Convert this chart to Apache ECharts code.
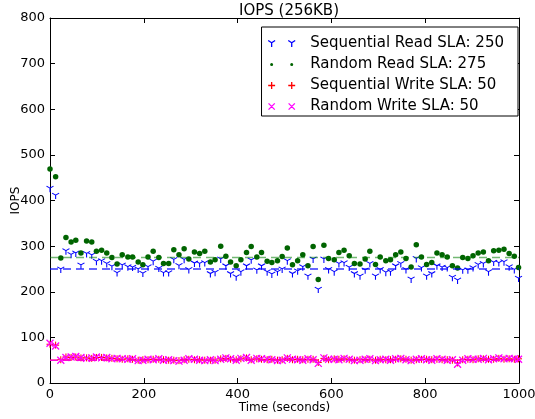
<!DOCTYPE html>
<html>
<head>
<meta charset="utf-8">
<script src="https://cdn.jsdelivr.net/npm/echarts@6/dist/echarts.min.js"></script>
<style>
  html, body { margin: 0; padding: 0; background: #fff; }
  #chart { width: 535px; height: 419px; }
</style>
</head>
<body>
<div id="chart"></div>
<script>
// sample times (seconds)
const times = [
  0, 12, 23, 34, 45, 55, 66, 78, 89, 99,
  110, 121, 132, 143, 154, 166, 176, 188, 198, 209,
  220, 232, 242, 253, 264, 275, 286, 296, 308, 319,
  330, 342, 352, 364, 375, 385, 397, 407, 419, 429,
  441, 451, 463, 473, 485, 495, 506, 517, 528, 539,
  550, 561, 572, 584, 594, 606, 616, 627, 638, 649,
  661, 672, 682, 694, 704, 716, 726, 737, 748, 759,
  770, 781, 792, 803, 814, 825, 836, 847, 858, 869,
  880, 891, 902, 913, 924, 935, 946, 957, 968, 979,
  990, 999
]

const seqRead = [
  427, 412, 250, 290, 282, 285, 259, 284, 281, 267,
  268, 262, 256, 242, 259, 255, 254, 250, 241, 255,
  267, 252, 242, 242, 271, 258, 271, 249, 263, 262,
  264, 240, 243, 272, 257, 240, 233, 244, 257, 270,
  248, 257, 244, 239, 244, 250, 268, 240, 246, 255,
  235, 272, 206, 272, 249, 244, 262, 264, 254, 240,
  235, 248, 262, 235, 249, 243, 244, 257, 262, 249,
  228, 273, 253, 235, 240, 257, 254, 253, 232, 226,
  248, 248, 253, 260, 262, 244, 265, 264, 266, 255,
  249, 230
]

const randRead = [
  469, 452, 274, 319, 309, 313, 285, 311, 309, 289,
  291, 285, 275, 261, 281, 276, 276, 265, 259, 276,
  289, 275, 262, 262, 292, 281, 294, 272, 287, 284,
  289, 265, 270, 300, 278, 265, 257, 270, 286, 299,
  276, 286, 267, 264, 268, 277, 296, 259, 268, 281,
  257, 299, 227, 302, 273, 270, 286, 291, 279, 262,
  261, 272, 289, 260, 276, 268, 270, 281, 287, 273,
  254, 303, 276, 260, 264, 285, 281, 276, 257, 252,
  275, 273, 279, 285, 287, 268, 290, 291, 293, 284,
  278, 253
]

const seqWrite = [
  85, 83, 51, 57, 56, 57, 55, 55, 54, 56,
  56, 55, 54, 53, 52, 53, 52, 50, 51, 51,
  52, 52, 51, 50, 50, 49, 51, 52, 51, 51,
  50, 50, 50, 53, 54, 52, 51, 53, 55, 51,
  53, 52, 51, 52, 50, 51, 54, 51, 52, 51,
  52, 52, 45, 54, 51, 53, 52, 53, 51, 50,
  51, 51, 52, 50, 52, 51, 51, 52, 53, 52,
  50, 51, 52, 52, 51, 52, 51, 51, 50, 44,
  51, 52, 51, 53, 53, 52, 52, 54, 52, 53,
  52, 53
]

const randWrite = [
  87, 81, 50, 56, 57, 58, 56, 54, 55, 57,
  55, 56, 53, 54, 53, 52, 53, 49, 50, 52,
  51, 53, 50, 51, 49, 48, 50, 53, 52, 50,
  49, 51, 49, 52, 55, 53, 50, 54, 56, 50,
  54, 53, 52, 51, 49, 50, 55, 52, 51, 50,
  53, 51, 43, 55, 52, 52, 51, 54, 52, 49,
  50, 52, 53, 49, 51, 52, 50, 53, 54, 51,
  49, 52, 53, 51, 50, 53, 52, 50, 51, 41,
  50, 53, 52, 52, 54, 51, 53, 55, 53, 54,
  53, 52
]

const seriesNames = ['Sequential Read SLA: 250', 'Random Read SLA: 275', 'Sequential Write SLA: 50', 'Random Write SLA: 50']
const slaValues = [250, 275, 50, 50]
const xTicks = [0, 1000]
const yTicks = [0, 800]

const colors = ['#0000ff', '#006400', '#ff0000', '#ff00ff']
const lineColors = ['rgba(0,0,255,0.8)', 'rgba(0,128,0,0.55)', 'rgba(255,0,0,0.8)', 'rgba(255,0,255,0.8)']

// marker shapes (stroked), a pair version for the legend
const triDown = 'path://M5,3.33 L5,10 M5,3.33 L0,0 M5,3.33 L10,0'
const plus = 'path://M0,5 L10,5 M5,0 L5,10'
const cross = 'path://M0,0 L10,10 M0,10 L10,0'
const legendIcons = [
  'path://M0,0 M39,10 M5,4 L5,10 M5,4 L0,0.6 M5,4 L10,0.6 M34,4 L34,10 M34,4 L29,0.6 M34,4 L39,0.6',
  'path://M0,0 M39,10 M2.8,5 A2.2,2.2 0 1 1 7.2,5 A2.2,2.2 0 1 1 2.8,5 Z M31.8,5 A2.2,2.2 0 1 1 36.2,5 A2.2,2.2 0 1 1 31.8,5 Z',
  'path://M0,0 M39,10 M0,5 L10,5 M5,0 L5,10 M29,5 L39,5 M34,0 L34,10',
  'path://M0,0 M39,10 M0.5,0.5 L9.5,9.5 M0.5,9.5 L9.5,0.5 M29.5,0.5 L38.5,9.5 M29.5,9.5 L38.5,0.5'
]

const pointSeries = [seqRead, randRead, seqWrite, randWrite]
const symbols = [triDown, 'circle', plus, cross]
const symbolSizes = [[7, 6], 5.5, 7, 7]

const font = 'DejaVu Sans'

const series = []
pointSeries.forEach((vals, i) => {
  series.push({
    name: seriesNames[i],
    type: 'scatter',
    data: vals.map((v, k) => [times[k], v]),
    symbol: symbols[i],
    symbolSize: symbolSizes[i],
    symbolOffset: i === 0 ? [0, 1] : [0, 0],
    itemStyle: {
      color: colors[i],
      borderColor: colors[i],
      borderWidth: i === 1 ? 0 : (i === 3 ? 1.3 : 1),
      opacity: 1,
    },
    emphasis: { disabled: true },
    clip: false,
    z: 2 + i,
  })
})
slaValues.forEach((v, i) => {
  series.push({
    name: 'sla' + i,
    type: 'line',
    data: [[xTicks[0], v], [xTicks[1], v]],
    symbol: 'none',
    lineStyle: { color: lineColors[i], width: 1.5, type: [8, 5] },
    emphasis: { disabled: true },
    z: 6 + i,
  })
})

const axisCommon = {
  axisLine: { show: true, onZero: false, lineStyle: { color: '#000', width: 1 } },
  axisTick: { show: true, inside: true, length: 5, lineStyle: { color: '#000', width: 1 } },
  splitLine: { show: false },
}

const chart = echarts.init(document.getElementById('chart'), null, { renderer: 'canvas' })
chart.setOption({
  animation: false,
  backgroundColor: '#fff',
  title: {
    text: 'IOPS (256KB)',
    left: 284,
    textAlign: 'center',
    top: -1,
    textStyle: { fontFamily: font, fontSize: 15, fontWeight: 'normal', color: '#000' },
  },
  legend: {
    data: seriesNames.map((n, i) => ({
      name: n,
      icon: legendIcons[i],
      itemStyle: {
        color: colors[i],
        borderColor: colors[i],
        borderWidth: i === 1 ? 0 : 1.3,
        opacity: 1,
      },
    })),
    orient: 'vertical',
    right: 17,
    top: 27,
    itemWidth: 27,
    itemHeight: 7,
    itemGap: 6,
    padding: [9, 14, 2, 6],
    borderColor: '#000',
    borderWidth: 1,
    borderRadius: 0,
    backgroundColor: '#fff',
    selectedMode: false,
    textStyle: { fontFamily: font, fontSize: 15, color: '#000', padding: [0, 0, 0, 10] },
  },
  grid: { left: 50, right: 16, top: 18, bottom: 36, containLabel: false, outerBoundsMode: 'none' },
  xAxis: [
    Object.assign({}, axisCommon, {
      type: 'value',
      min: xTicks[0],
      max: xTicks[1],
      interval: 200,
      name: 'Time (seconds)',
      nameLocation: 'middle',
      nameGap: 19,
      nameMoveOverlap: false,
      nameTextStyle: { fontFamily: font, fontSize: 12, color: '#000' },
      axisLabel: { fontFamily: font, fontSize: 13, color: '#000', margin: 5, formatter: (v) => String(v) },
    }),
    Object.assign({}, axisCommon, {
      type: 'value',
      position: 'top',
      min: xTicks[0],
      max: xTicks[1],
      interval: 200,
      axisLabel: { show: false },
    }),
  ],
  yAxis: [
    Object.assign({}, axisCommon, {
      type: 'value',
      min: yTicks[0],
      max: yTicks[1],
      interval: 100,
      name: 'IOPS',
      nameLocation: 'middle',
      nameGap: 28,
      nameMoveOverlap: false,
      nameTextStyle: { fontFamily: font, fontSize: 12, color: '#000' },
      axisLabel: { fontFamily: font, fontSize: 13, color: '#000', margin: 5, formatter: (v) => String(v) },
    }),
    Object.assign({}, axisCommon, {
      type: 'value',
      position: 'right',
      min: yTicks[0],
      max: yTicks[1],
      interval: 100,
      axisLabel: { show: false },
    }),
  ],
  series: series,
})
</script>
</body>
</html>
